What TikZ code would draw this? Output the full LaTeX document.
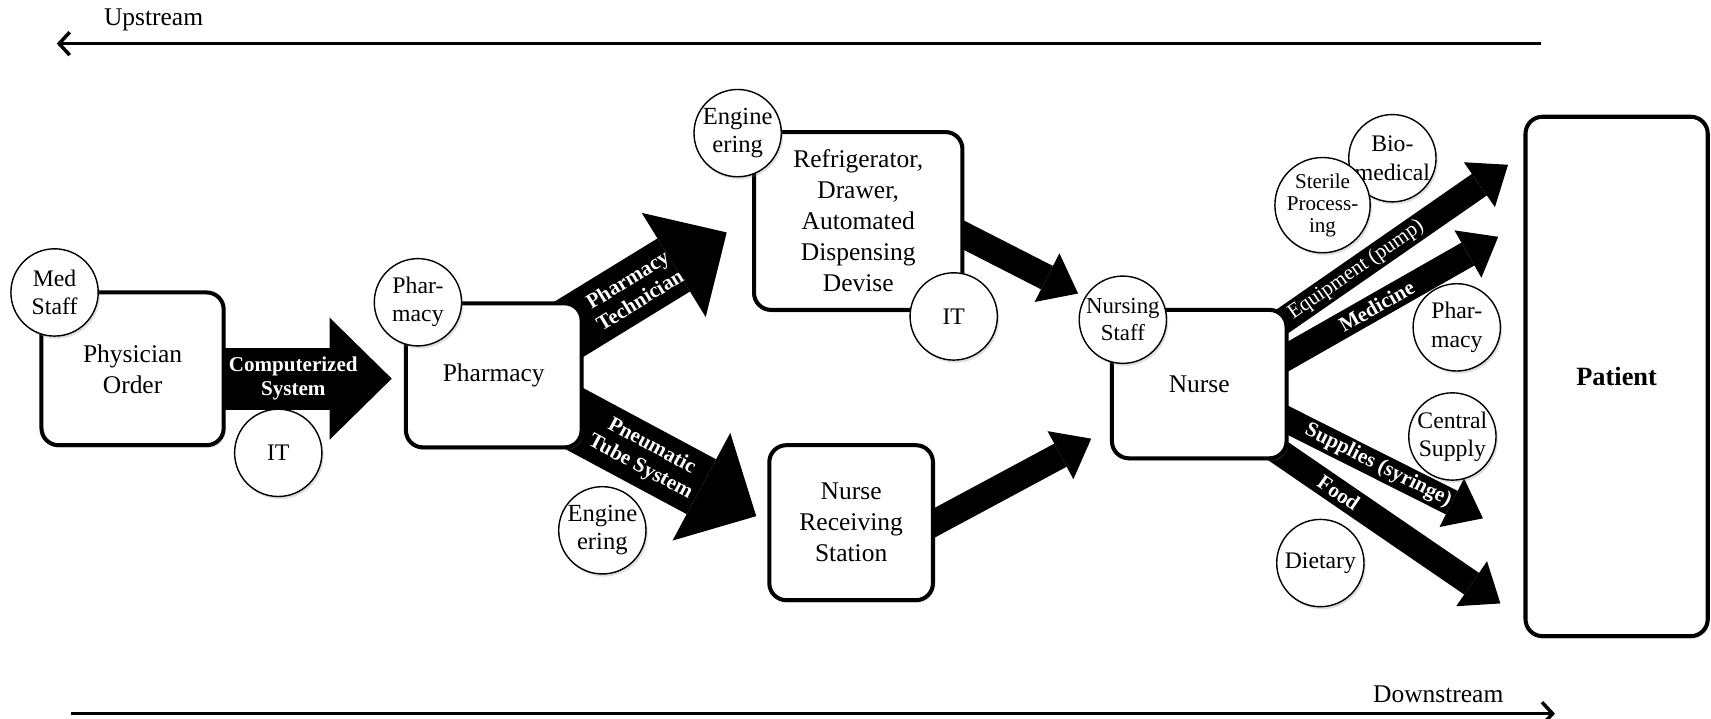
\documentclass[tikz,border=0pt]{standalone}
\usepackage{fontspec}
\setmainfont{Liberation Serif}
\usetikzlibrary{arrows.meta,backgrounds,shadows,calc}
\newlength{\dunit}
\setlength{\dunit}{0.021824cm}
\begin{document}
\begin{tikzpicture}
      [x=0.021824cm, y=-0.021824cm,
       stage/.style={draw, line width=2.3pt, rounded corners=0.34cm, fill=white, align=center, inner sep=0pt,
         font=\fontsize{14.5}{17.6}\selectfont, drop shadow={opacity=0.25, shadow xshift=1pt, shadow yshift=-1.5pt}},
       dept/.style={draw, circle, line width=0.8pt, fill=white, minimum size=80\dunit, inner sep=0pt, align=center,
         font=\fontsize{13.5}{16}\selectfont, drop shadow={opacity=0.25, shadow xshift=1pt, shadow yshift=-1.5pt}},
       flow/.style={line width=1.244cm, -{Triangle[width=2.444cm, length=1.244cm, line width=0pt]}},
       thinflow/.style={line width=0.524cm, -{Triangle[width=1.091cm, length=0.698cm, line width=0pt]}},
       flowtext/.style={sloped, text=white, align=center, inner sep=1pt, font=\bfseries\fontsize{12}{13.5}\selectfont},
       stream/.style={line width=2pt, -{Straight Barb[length=6pt, width=13pt]}},
       note/.style={font=\fontsize{14.5}{17.6}\selectfont, inner sep=0pt}]
      \useasboundingbox (0,0) rectangle (1568,658);
      \node[stage, minimum width=167\dunit, minimum height=140\dunit](phys) at (121.5,338) {Physician\\Order};
      \node[stage, minimum width=161\dunit, minimum height=132\dunit](pharm) at (452.5,344) {Pharmacy};
      \node[stage, minimum width=191\dunit, minimum height=163\dunit](fridge) at (786.5,202.5) {Refrigerator,\\Drawer,\\Automated\\Dispensing\\Devise};
      \node[stage, minimum width=150\dunit, minimum height=142\dunit](station) at (780,479) {Nurse\\Receiving\\Station};
      \node[stage, minimum width=160\dunit, minimum height=136\dunit](nurse) at (1099,352) {Nurse};
      \node[stage, minimum width=167\dunit, minimum height=476\dunit, font=\bfseries\fontsize{15}{18}\selectfont](patient) at (1481.5,345) {Patient};
      \node[dept](medstaff) at (50,268) {Med\\Staff};
      \node[dept](it1) at (255,415) {IT};
      \node[dept](pharmstaff) at (383,277) {Phar-\\macy};
      \node[dept, font=\fontsize{14}{16}\selectfont](eng1) at (552,486) {Engine\\ering};
      \node[dept, font=\fontsize{14}{16}\selectfont](eng2) at (676,122) {Engine\\ering};
      \node[dept](it2) at (874,290) {IT};
      \node[dept, font=\fontsize{13}{15.5}\selectfont](nursing) at (1029,293) {Nursing\\Staff};
      \node[dept](biomed) at (1276,145) {Bio-\\medical};
      \node[dept, font=\fontsize{12}{12.5}\selectfont](sterile) at (1212,188) {Sterile\\Process-\\ing};
      \node[dept](pharmdept) at (1335,300) {Phar-\\macy};
      \node[dept](central) at (1331,400) {Central\\Supply};
      \node[dept](dietary) at (1210,516) {Dietary};
      \coordinate(csTip) at (359,347);
      \coordinate(techTip) at (666,213);
      \coordinate(tubeTip) at (693,473);
      \coordinate(fridgeTip) at (988,269);
      \coordinate(stationTip) at (1000,402);
      \coordinate(equipTip) at (1382,151);
      \coordinate(mediTip) at (1373,217);
      \coordinate(supplyTip) at (1359,475);
      \coordinate(foodTip) at (1375,553);
      \begin{scope}[on background layer]
        \draw[flow](phys.center |- csTip) --node[flowtext, pos=0.62]{Computerized\\System} (csTip);
        \draw[flow](pharm.center) --node[flowtext, pos=0.6]{Pharmacy\\Technician} (techTip);
        \draw[flow](pharm.center) --node[flowtext, pos=0.58]{Pneumatic\\Tube System} (tubeTip);
        \draw[thinflow]($(fridge.east)+(-30,-2)$) -- (fridgeTip);
        \draw[thinflow]($(station.east)+(-30,16)$) -- (stationTip);
        \draw[thinflow]($(nurse.center)+(51,-40)$) --node[flowtext, pos=0.4, font=\fontsize{12}{13.5}\selectfont]{Equipment (pump)} (equipTip);
        \draw[thinflow]($(nurse.center)+(51,-8)$) --node[flowtext, pos=0.5]{Medicine} (mediTip);
        \draw[thinflow]($(nurse.center)+(51,18)$) --node[flowtext, pos=0.54]{Supplies (syringe)} (supplyTip);
        \draw[thinflow]($(nurse.center)+(41,40)$) --node[flowtext, pos=0.37]{Food} (foodTip);
      \end{scope}
      \coordinate(upStart) at (1412,40);
      \coordinate(upEnd) at (52,40);
      \coordinate(downStart) at (65,654);
      \coordinate(downEnd) at (1425,654);
      \draw[stream](upStart) -- (upEnd);
      \draw[stream](downStart) -- (downEnd);
      \node[note, anchor=west](upstream) at (95,18) {Upstream};
      \node[note, anchor=east](downstream) at (1378,636) {Downstream};
\end{tikzpicture}
\end{document}
